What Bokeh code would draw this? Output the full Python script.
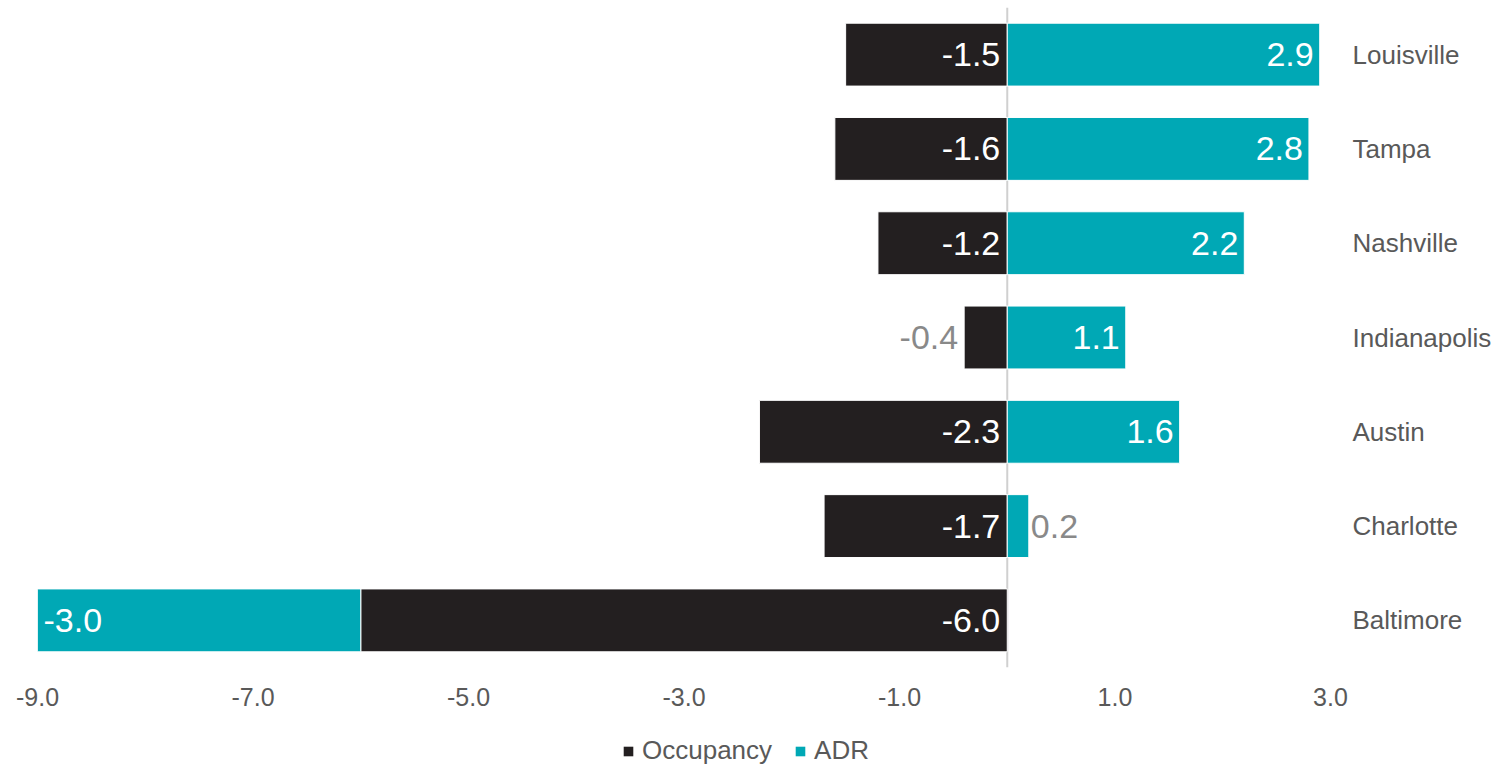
import numpy as np
from bokeh.plotting import figure
from bokeh.layouts import column
from bokeh.models import (ColumnDataSource, FactorRange, FixedTicker, NumeralTickFormatter,
                          Span, Legend, LegendItem)
from bokeh.core.properties import value
from bokeh.embed import file_html
from bokeh.resources import INLINE

cities = ["Louisville", "Tampa", "Nashville", "Indianapolis", "Austin", "Charlotte", "Baltimore"]
occupancy = [-1.5, -1.6, -1.2, -0.4, -2.3, -1.7, -6.0]
adr = [2.9, 2.8, 2.2, 1.1, 1.6, 0.2, -3.0]
series_names = ["Occupancy", "ADR"]
x_ticks = [-9, -7, -5, -3, -1, 1, 3]

DARK = "#231F20"
TEAL = "#00A8B5"
GREY_LBL = "#898989"
AXIS_TXT = "#595959"
FONT = "Liberation Sans"

occ = np.array(occupancy)
ad = np.array(adr)
adr_base = np.where(ad < 0, occ, 0.0)
adr_end = adr_base + ad

bars = ColumnDataSource(dict(city=cities, occ_l=np.zeros(len(occ)), occ_r=occ,
                             adr_l=adr_base, adr_r=adr_end))

# label table built from the data
lx, ly, lt, la, lo, lc = [], [], [], [], [], []
for c, o, a, b, e in zip(cities, occ, ad, adr_base, adr_end):
    if abs(o) >= 0.5:
        lx.append(0.0); la.append("right"); lo.append(-7); lc.append("white")
    else:
        lx.append(o); la.append("right"); lo.append(-6); lc.append(GREY_LBL)
    ly.append(c); lt.append(f"{o:.1f}")
    if a > 0 and a >= 0.5:
        lx.append(e); la.append("right"); lo.append(-6); lc.append("white")
    elif a > 0:
        lx.append(e); la.append("left"); lo.append(2); lc.append(GREY_LBL)
    else:
        lx.append(e); la.append("left"); lo.append(6); lc.append("white")
    ly.append(c); lt.append(f"{a:.1f}")
labels = ColumnDataSource(dict(x=lx, y=ly, text=lt, align=la, off=lo, color=lc))

W = 1495
p = figure(width=W, height=720,
           x_range=(-9, 3), y_range=FactorRange(factors=cities[::-1]),
           y_axis_location="right", output_backend="svg", toolbar_location=None,
           min_border_left=37, min_border_right=165, min_border_top=7, min_border_bottom=53)
p.outline_line_color = None
p.xgrid.visible = False
p.ygrid.visible = False
p.background_fill_color = "white"
p.border_fill_color = "white"

zero = Span(location=0, dimension="height", line_color="#D0D0D0", line_width=2, level="underlay")
p.add_layout(zero)

r_occ = p.hbar(y="city", left="occ_l", right="occ_r", height=0.667, source=bars,
               fill_color=DARK, line_color="white", line_width=1)
r_adr = p.hbar(y="city", left="adr_l", right="adr_r", height=0.667, source=bars,
               fill_color=TEAL, line_color="white", line_width=1)

p.text(x="x", y="y", text="text", source=labels, text_align="align", x_offset="off",
       text_color="color", text_baseline="middle", text_font=value(FONT),
       text_font_size="34px")

xa = p.xaxis[0]
xa.ticker = FixedTicker(ticks=x_ticks)
xa.formatter = NumeralTickFormatter(format="0.0")
xa.axis_line_color = None
xa.major_tick_line_color = None
xa.minor_tick_line_color = None
xa.major_tick_out = 0
xa.major_tick_in = 0
xa.minor_tick_out = 0
xa.major_label_text_font = FONT
xa.major_label_text_font_size = "25px"
xa.major_label_text_color = AXIS_TXT
xa.major_label_standoff = 20

ya = p.yaxis[0]
ya.axis_line_color = None
ya.major_tick_line_color = None
ya.minor_tick_line_color = None
ya.major_tick_out = 0
ya.major_tick_in = 0
ya.minor_tick_out = 0
ya.major_label_text_font = FONT
ya.major_label_text_font_size = "26px"
ya.major_label_text_color = AXIS_TXT
ya.major_label_standoff = 22

# legend strip below the chart: swatch renderers sit outside the strip's visible range
leg = figure(width=W, height=48, x_range=(0, 1), y_range=(0, 1),
             x_axis_type=None, y_axis_type=None, output_backend="svg",
             toolbar_location=None, min_border=0)
leg.outline_line_color = None
leg.xgrid.visible = False
leg.ygrid.visible = False
leg.background_fill_color = "white"
leg.border_fill_color = "white"
swatch = ColumnDataSource(dict(y=[-10.0], left=[-10.0], right=[-10.0]))
sw_occ = leg.hbar(y="y", left="left", right="right", height=0.5, source=swatch,
                  fill_color=DARK, line_color=None)
sw_adr = leg.hbar(y="y", left="left", right="right", height=0.5, source=swatch,
                  fill_color=TEAL, line_color=None)

legend = Legend(items=[LegendItem(label=series_names[0], renderers=[sw_occ]),
                       LegendItem(label=series_names[1], renderers=[sw_adr])],
                orientation="horizontal", location=(585, 2),
                glyph_width=12, glyph_height=12, label_standoff=8, spacing=22,
                label_text_font=FONT, label_text_font_size="26px",
                label_text_color=AXIS_TXT, border_line_color=None,
                background_fill_alpha=0, padding=0, margin=0)
leg.add_layout(legend, "center")

layout = column(p, leg, spacing=0)
open("out.html", "w").write(file_html(layout, INLINE))
